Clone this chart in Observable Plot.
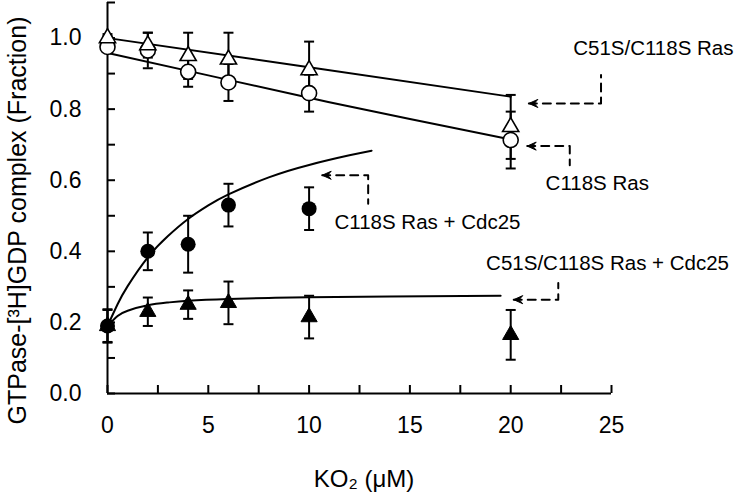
<!DOCTYPE html>
<html><head><meta charset="utf-8">
<script src="https://cdn.jsdelivr.net/npm/d3@7"></script>
<script src="https://cdn.jsdelivr.net/npm/@observablehq/plot@0.6"></script>
<style>body{margin:0;background:#fff;}</style>
</head><body><div id="chart"></div>
<script>
// ---- data ----
const conc = [0, 2, 4, 6, 10, 20];
const rasDouble = [1.00, 0.98, 0.95, 0.94, 0.91, 0.75];          // open triangles
const rasDoubleErr = [0, 0.035, 0.065, 0.075, 0.08, 0.09];
const rasSingle = [0.975, 0.965, 0.905, 0.875, 0.845, 0.713];    // open circles
const rasSingleErr = [0, 0.05, 0.042, 0.052, 0.052, 0.08];
const cdcConc = [0, 2, 4, 6, 10];
const rasSingleCdc = [0.19, 0.40, 0.42, 0.53, 0.52];              // filled circles
const rasSingleCdcErr = [0.047, 0.053, 0.08, 0.06, 0.06];
const rasDoubleCdc = [0.19, 0.23, 0.25, 0.255, 0.215, 0.165];     // filled triangles
const rasDoubleCdcErr = [0.045, 0.04, 0.04, 0.06, 0.06, 0.07];

// fitted curves
const fitDoubleX = [0, 10, 20];
const fitDoubleY = [1.0, 0.918, 0.835];
const fitSingleX = [0, 5, 10, 15, 19.7];
const fitSingleY = [0.958, 0.895, 0.832, 0.772, 0.718];
const fitSingleCdcX = [0, 0.5, 1, 2, 3, 4, 5, 6, 8, 10, 12, 13.1];
const fitSingleCdcY = [0.19, 0.251, 0.302, 0.383, 0.443, 0.491, 0.529, 0.56, 0.608, 0.643, 0.67, 0.683];
const fitDoubleCdcX = [0, 0.5, 1, 2, 3, 4, 6, 8, 10, 14, 19.5];
const fitDoubleCdcY = [0.19, 0.218, 0.233, 0.248, 0.256, 0.261, 0.266, 0.269, 0.271, 0.273, 0.275];

// annotations
const annLabels = ["C51S/C118S Ras", "C118S Ras", "C118S Ras + Cdc25", "C51S/C118S Ras + Cdc25"];
const annTipX = [20.9, 20.82, 10.65, 20.15];
const annTipY = [0.816, 0.696, 0.614, 0.264];
const annElbowX = [24.48, 22.93, 12.93, 22.36];
const annEndY = [0.896, 0.642, 0.534, 0.311];
const annTextX = [23.1, 21.73, 11.26, 18.78];
const annTextY = [0.972, 0.592, 0.4825, 0.365];

// axes
const xMajorTicks = [0, 5, 10, 15, 20, 25];
const xMinorTicks = [0, 2.5, 5, 7.5, 10, 12.5, 15, 17.5, 20, 22.5, 25];
const yMajorTicks = [0, 0.2, 0.4, 0.6, 0.8, 1.0];
const yMinorTicks = [0, 0.1, 0.2, 0.3, 0.4, 0.5, 0.6, 0.7, 0.8, 0.9, 1.0, 1.1];
const xLabel = "KO\u2082 (\u03BCM)";
const yLabel = "GTPase-[\u00B3H]GDP complex (Fraction)";

// ---- build tables ----
const pts = (xs, ys, es) => xs.map((x, i) => ({x, y: ys[i], e: es ? es[i] : 0}));
const dDouble = pts(conc, rasDouble, rasDoubleErr);
const dSingle = pts(conc, rasSingle, rasSingleErr);
const dSingleCdc = pts(cdcConc, rasSingleCdc, rasSingleCdcErr);
const dDoubleCdc = pts(conc, rasDoubleCdc, rasDoubleCdcErr);
const allErr = [...dDouble, ...dSingle, ...dSingleCdc, ...dDoubleCdc].filter(d => d.e > 0);
const fits = [
  ...pts(fitDoubleX, fitDoubleY).map(d => ({...d, k: "a"})),
  ...pts(fitSingleX, fitSingleY).map(d => ({...d, k: "b"})),
  ...pts(fitSingleCdcX, fitSingleCdcY).map(d => ({...d, k: "c"})),
  ...pts(fitDoubleCdcX, fitDoubleCdcY).map(d => ({...d, k: "d"}))
];
const ann = annLabels.map((t, i) => ({t, tx: annTipX[i], ty: annTipY[i], ex: annElbowX[i], ey: annEndY[i], lx: annTextX[i], ly: annTextY[i]}));
const annPaths = ann.flatMap((a, i) => [
  {k: i, x: a.tx, y: a.ty}, {k: i, x: a.ex, y: a.ty}, {k: i, x: a.ex, y: a.ey}
]);

const capSymbol = {draw(ctx, size) { const r = Math.sqrt(size / Math.PI); ctx.moveTo(-r, 0); ctx.lineTo(r, 0); }};
const headSymbol = {draw(ctx, size) { const r = Math.sqrt(size / Math.PI); ctx.moveTo(0, 0); ctx.lineTo(r, -r * 0.45); ctx.lineTo(r * 0.6, 0); ctx.lineTo(r, r * 0.45); ctx.closePath(); }};

const FONT = "Arial, 'Liberation Sans', sans-serif";

const chart = Plot.plot({
  width: 735, height: 495,
  marginLeft: 107, marginRight: 124, marginTop: 2, marginBottom: 102,
  style: {fontFamily: FONT, background: "#fff", color: "#000"},
  x: {domain: [0, 25]},
  y: {domain: [0, 1.1]},
  marks: [
    // axes
    Plot.axisX({ticks: xMinorTicks, tickSize: -8, tickFormat: () => "", strokeWidth: 2, label: null}),
    Plot.axisX({ticks: xMajorTicks, tickSize: 0, tickPadding: 23, fontSize: 23, label: null, tickFormat: d3.format("d")}),
    Plot.axisY({ticks: yMinorTicks, tickSize: -8, tickFormat: () => "", strokeWidth: 2, label: null}),
    Plot.axisY({ticks: yMajorTicks, tickSize: 0, tickPadding: 26, fontSize: 23, label: null, tickFormat: d3.format(".1f")}),
    Plot.ruleY([0], {x1: 0, x2: 25, strokeWidth: 2}),
    Plot.ruleX([0], {y1: 0, y2: 1.1, strokeWidth: 2}),
    Plot.text([xLabel], {frameAnchor: "bottom", textAnchor: "middle", lineAnchor: "middle", dx: 4.5, dy: 86, fontSize: 24}),
    Plot.text([yLabel], {frameAnchor: "left", textAnchor: "middle", lineAnchor: "middle", dx: -90, dy: 22.5, rotate: -90, fontSize: 25}),
    // fitted curves
    Plot.line(fits, {x: "x", y: "y", z: "k", curve: "natural", stroke: "#000", strokeWidth: 2}),
    // error bars
    Plot.ruleX(allErr, {x: "x", y1: d => d.y - d.e, y2: d => d.y + d.e, strokeWidth: 2}),
    Plot.dot(allErr, {x: "x", y: d => d.y + d.e, symbol: capSymbol, r: 5, stroke: "#000", strokeWidth: 2}),
    Plot.dot(allErr, {x: "x", y: d => d.y - d.e, symbol: capSymbol, r: 5, stroke: "#000", strokeWidth: 2}),
    // markers
    Plot.dot(dDouble.slice(0, 1), {x: "x", y: "y", symbol: "square", r: 5.6, fill: "#000"}),
    Plot.dot(dDoubleCdc, {x: "x", y: "y", symbol: "triangle", r: 6, fill: "#000", stroke: "#000", strokeWidth: 1}),
    Plot.dot(dSingleCdc, {x: "x", y: "y", r: 7.5, fill: "#000"}),
    Plot.dot(dSingle, {x: "x", y: "y", r: 7.5, fill: "#fff", stroke: "#000", strokeWidth: 1.6}),
    Plot.dot(dDouble, {x: "x", y: "y", symbol: "triangle", r: 6, fill: "#fff", stroke: "#000", strokeWidth: 1.6}),
    // annotations
    Plot.line(annPaths, {x: "x", y: "y", z: "k", stroke: "#000", strokeWidth: 2, strokeDasharray: "8,6"}),
    Plot.dot(ann, {x: "tx", y: "ty", symbol: headSymbol, r: 9, fill: "#000", stroke: "#000", strokeWidth: 1}),
    Plot.text(ann, {x: "lx", y: "ly", text: "t", textAnchor: "start", fontSize: 20.5, fill: "#000"})
  ]
});
document.getElementById("chart").appendChild(chart);
</script>
</body></html>
